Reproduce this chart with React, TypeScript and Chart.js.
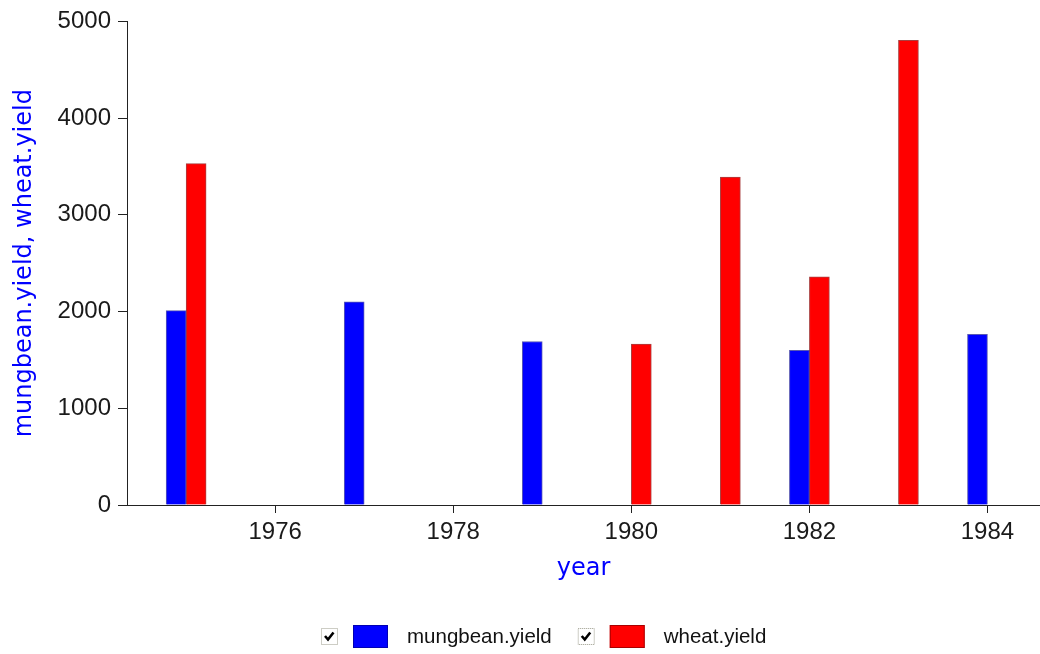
import { useEffect, useRef } from "react";
import { Chart, registerables } from "chart.js";

Chart.register(...registerables);

// ---- data ----
const mungbeanYears = [1975, 1977, 1979, 1982, 1984];
const mungbeanYield = [2010, 2100, 1690, 1600, 1765];
const wheatYears = [1975, 1980, 1981, 1982, 1983];
const wheatYield = [3530, 1665, 3390, 2360, 4805];
const xTickYears = [1976, 1978, 1980, 1982, 1984];
const yTickValues = [0, 1000, 2000, 3000, 4000, 5000];
const seriesNames = ["mungbean.yield", "wheat.yield"];
const seriesColors = ["#0000ff", "#ff0000"];
const seriesBorders = ["rgba(0,0,140,0.65)", "rgba(140,0,0,0.75)"];
const xAxisTitle = "year";
const yAxisTitle = "mungbean.yield, wheat.yield";

const TICK_FONT = { family: "'Liberation Sans', Arial, sans-serif", size: 24 };
const TITLE_FONT = { family: "'DejaVu Sans', Verdana, sans-serif", size: 24 };
const LEGEND_FONT = "20.5px 'Liberation Sans', Arial, sans-serif";

const checkLegend = {
  id: "checkLegend",
  afterDraw(chart: any) {
    const ctx = chart.ctx as CanvasRenderingContext2D;
    ctx.save();
    let x = 321;
    const y = 625;
    ctx.font = LEGEND_FONT;
    chart.data.datasets.forEach((ds: any) => {
      // checkbox
      const s = 16;
      const cy = y + 3;
      ctx.fillStyle = "#ffffff";
      ctx.fillRect(x, cy, s, s);
      ctx.setLineDash([1, 1]);
      ctx.strokeStyle = "#9a9a8a";
      ctx.lineWidth = 1;
      ctx.strokeRect(x + 0.5, cy + 0.5, s, s);
      ctx.setLineDash([]);
      ctx.strokeStyle = "#000000";
      ctx.lineWidth = 2.6;
      ctx.beginPath();
      ctx.moveTo(x + 4, cy + 8);
      ctx.lineTo(x + 7, cy + 11.5);
      ctx.lineTo(x + 12.5, cy + 4.5);
      ctx.stroke();
      // colour swatch
      const sx = x + 32;
      ctx.fillStyle = ds.backgroundColor;
      ctx.fillRect(sx, y, 35, 23);
      ctx.strokeStyle = ds.borderColor;
      ctx.lineWidth = 1;
      ctx.strokeRect(sx + 0.5, y + 0.5, 34, 22);
      // label
      const tx = sx + 54;
      ctx.fillStyle = "#111111";
      ctx.textBaseline = "alphabetic";
      ctx.textAlign = "left";
      ctx.fillText(ds.label, tx, y + 18);
      x = tx + ctx.measureText(ds.label).width + 26;
    });
    ctx.restore();
  },
};

export default function App() {
  const ref = useRef<HTMLCanvasElement | null>(null);

  useEffect(() => {
    if (!ref.current) return;
    const chart = new Chart(ref.current, {
      type: "bar",
      data: {
        datasets: [
          {
            label: seriesNames[0],
            data: mungbeanYears.map((yr, i) => ({ x: yr, y: mungbeanYield[i] })),
            backgroundColor: seriesColors[0],
            borderColor: seriesBorders[0],
            borderWidth: 1,
            barThickness: 20,
          },
          {
            label: seriesNames[1],
            data: wheatYears.map((yr, i) => ({ x: yr, y: wheatYield[i] })),
            backgroundColor: seriesColors[1],
            borderColor: seriesBorders[1],
            borderWidth: 1,
            barThickness: 20,
          },
        ],
      },
      options: {
        responsive: false,
        animation: false,
        layout: { padding: { top: 16, left: 0, right: 0, bottom: 0 } },
        plugins: {
          legend: { display: false },
          tooltip: { enabled: false },
        },
        scales: {
          x: {
            type: "linear",
            offset: false,
            min: 1974.336,
            max: 1984.59,
            afterBuildTicks: (scale: any) => {
              scale.ticks = xTickYears.map((v) => ({ value: v }));
            },
            afterFit: (scale: any) => {
              scale.height = 149;
            },
            ticks: {
              color: "#1a1a1a",
              font: TICK_FONT,
              padding: 5,
              maxRotation: 0,
              autoSkip: false,
              callback: (v: any) => String(v),
            },
            grid: {
              offset: false,
              drawOnChartArea: false,
              drawTicks: true,
              tickLength: 8,
              color: "#222222",
            },
            border: { color: "#222222", width: 1 },
            title: {
              display: true,
              text: xAxisTitle,
              color: "#0000ff",
              font: TITLE_FONT,
              padding: { top: 0, bottom: 71 },
            },
          },
          y: {
            type: "linear",
            min: 0,
            max: 5000,
            afterBuildTicks: (scale: any) => {
              scale.ticks = yTickValues.map((v) => ({ value: v }));
            },
            afterFit: (scale: any) => {
              scale.width = 127;
            },
            ticks: {
              color: "#1a1a1a",
              font: TICK_FONT,
              padding: 7,
              callback: (v: any) => String(v),
            },
            grid: {
              drawOnChartArea: false,
              drawTicks: true,
              tickLength: 9,
              color: "#222222",
            },
            border: { color: "#222222", width: 1 },
            title: {
              display: true,
              text: yAxisTitle,
              color: "#0000ff",
              font: TITLE_FONT,
              padding: { top: 10, bottom: 0 },
            },
          },
        },
      } as any,
      plugins: [checkLegend],
    });
    return () => chart.destroy();
  }, []);

  return (
    <div style={{ position: "absolute", left: 0, top: 0, width: 1040, height: 654, background: "#ffffff" }}>
      <canvas ref={ref} width={1040} height={654} style={{ width: 1040, height: 654 }} />
    </div>
  );
}
